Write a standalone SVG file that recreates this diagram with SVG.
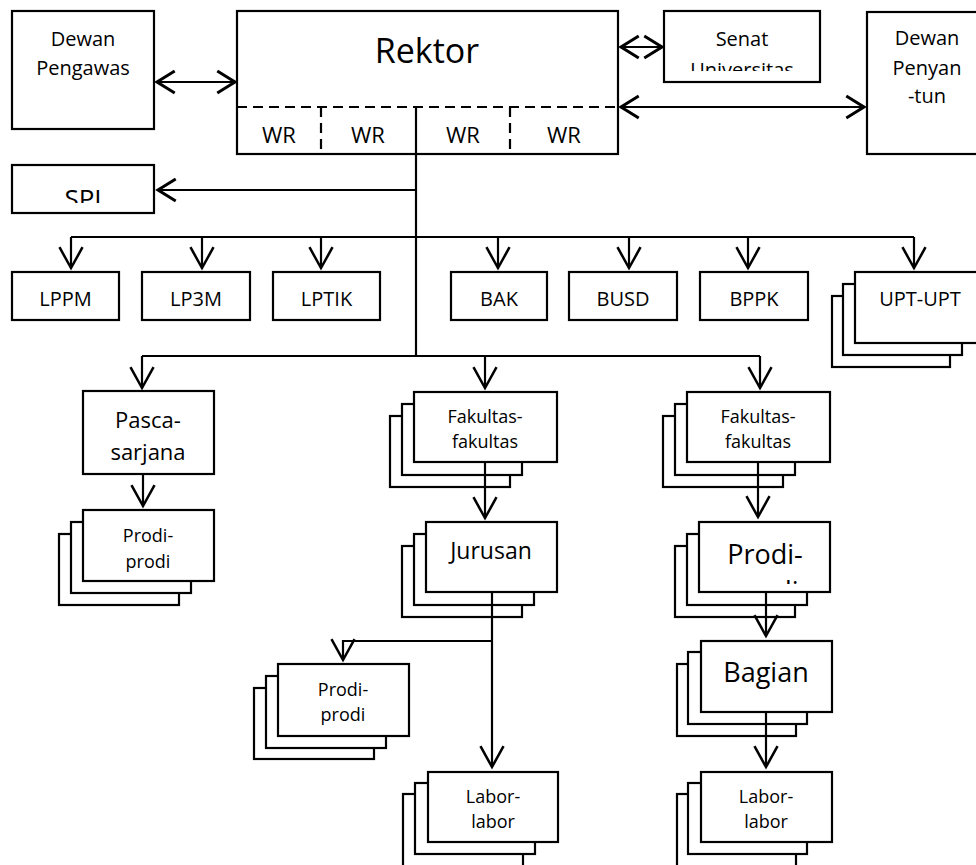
<svg xmlns="http://www.w3.org/2000/svg" width="976" height="865" viewBox="0 0 976 865">
<style>
rect{fill:#fff;stroke:#000;stroke-width:2.2}
.c{fill:none;stroke:#000;stroke-width:2.2}
.d{fill:none;stroke:#000;stroke-width:2.2;stroke-dasharray:10 6}
text{font-family:"Open Sans","Liberation Sans",sans-serif;fill:#000;text-anchor:middle}
.s18{font-size:18px}
.s20{font-size:20px}
.s22{font-size:22px}
</style>
<defs>
<marker id="ad" markerUnits="userSpaceOnUse" markerWidth="30" markerHeight="30" viewBox="-22 -13 26 26" refX="0" refY="0" orient="auto-start-reverse" overflow="visible"><path d="M-18,-10 L0,0 L-18,10" fill="none" stroke="#000" stroke-width="2.2"/></marker>
<marker id="ah" markerUnits="userSpaceOnUse" markerWidth="30" markerHeight="30" viewBox="-18 -11 22 22" refX="0" refY="0" orient="auto-start-reverse" overflow="visible"><path d="M-13,-8 L0,0 L-13,8" fill="none" stroke="#000" stroke-width="2.2"/></marker>
<clipPath id="clipSenat"><rect x="664" y="11" width="156" height="60"/></clipPath>
<clipPath id="clipSPI"><rect x="12" y="165" width="142" height="38"/></clipPath>
<clipPath id="clipProdiR"><rect x="699" y="522" width="131" height="62"/></clipPath>
</defs>

<g id="dewan-pengawas">
<rect x="12" y="11" width="142" height="118"/>
<text class="s20" x="83" y="46">Dewan</text>
<text class="s20" x="83" y="75">Pengawas</text>
</g>

<g id="rektor">
<rect x="237" y="11" width="381" height="143"/>
<line class="d" x1="237" y1="107" x2="618" y2="107"/>
<line class="d" x1="321" y1="107" x2="321" y2="154"/>
<line class="d" x1="510" y1="107" x2="510" y2="154"/>
<text x="427" y="63" style="font-size:34px">Rektor</text>
<text class="s22" x="279" y="143">WR</text>
<text class="s22" x="368" y="143">WR</text>
<text class="s22" x="463" y="143">WR</text>
<text class="s22" x="564" y="143">WR</text>
</g>

<g id="senat">
<rect x="664" y="11" width="156" height="71"/>
<text class="s20" x="742" y="46">Senat</text>
<text class="s20" x="742" y="77" clip-path="url(#clipSenat)">Universitas</text>
</g>

<g id="dewan-penyantun">
<rect x="867" y="12" width="112" height="142"/>
<text class="s20" x="927" y="45">Dewan</text>
<text class="s20" x="927" y="75">Penyan</text>
<text class="s20" x="927" y="103">-tun</text>
</g>

<g id="spi">
<rect x="12" y="165" width="142" height="48"/>
<text x="83" y="208" style="font-size:26px" clip-path="url(#clipSPI)">SPI</text>
</g>

<g id="lppm"><rect x="12" y="272" width="107" height="48"/><text class="s20" x="65.5" y="306">LPPM</text></g>
<g id="lp3m"><rect x="142" y="272" width="108" height="48"/><text class="s20" x="196" y="306">LP3M</text></g>
<g id="lptik"><rect x="273" y="272" width="107" height="48"/><text class="s20" x="326.5" y="306">LPTIK</text></g>
<g id="bak"><rect x="451" y="272" width="96" height="48"/><text class="s20" x="499" y="306">BAK</text></g>
<g id="busd"><rect x="569" y="272" width="108" height="48"/><text class="s20" x="623" y="306">BUSD</text></g>
<g id="bppk"><rect x="700" y="272" width="108" height="48"/><text class="s20" x="754" y="306">BPPK</text></g>

<g id="upt">
<rect x="832" y="296" width="118" height="71"/>
<rect x="843" y="284" width="119" height="71"/>
<rect x="855" y="272" width="124" height="71"/>
<text class="s20" x="920" y="306">UPT-UPT</text>
</g>

<g id="pascasarjana">
<rect x="83" y="391" width="131" height="83"/>
<text class="s22" x="148" y="428">Pasca-</text>
<text class="s22" x="148" y="460">sarjana</text>
</g>

<g id="prodi-pasca">
<rect x="59" y="534" width="120" height="71"/>
<rect x="71" y="522" width="120" height="71"/>
<rect x="83" y="510" width="131" height="71"/>
<text class="s18" x="148" y="542">Prodi-</text>
<text class="s18" x="148" y="568">prodi</text>
</g>

<g id="fakultas-1">
<rect x="390" y="416" width="120" height="71"/>
<rect x="402" y="404" width="120" height="71"/>
<rect x="414" y="392" width="143" height="70"/>
<text class="s18" x="485" y="423">Fakultas-</text>
<text class="s18" x="485" y="448">fakultas</text>
</g>

<g id="jurusan">
<rect x="402" y="546" width="120" height="71"/>
<rect x="414" y="534" width="120" height="71"/>
<rect x="426" y="522" width="131" height="70"/>
<text x="491" y="559" style="font-size:23px">Jurusan</text>
</g>

<g id="prodi-jurusan">
<rect x="254" y="688" width="120" height="71"/>
<rect x="266" y="676" width="120" height="72"/>
<rect x="278" y="664" width="131" height="72"/>
<text class="s18" x="343" y="696">Prodi-</text>
<text class="s18" x="343" y="721">prodi</text>
</g>

<g id="labor-1">
<rect x="403" y="794" width="120" height="80"/>
<rect x="415" y="783" width="120" height="71"/>
<rect x="428" y="772" width="130" height="70"/>
<text class="s18" x="493" y="803">Labor-</text>
<text class="s18" x="493" y="828">labor</text>
</g>

<g id="fakultas-2">
<rect x="663" y="416" width="120" height="71"/>
<rect x="675" y="404" width="120" height="71"/>
<rect x="687" y="392" width="143" height="70"/>
<text class="s18" x="758" y="423">Fakultas-</text>
<text class="s18" x="758" y="448">fakultas</text>
</g>

<g id="prodi-fakultas">
<rect x="675" y="546" width="120" height="71"/>
<rect x="687" y="534" width="120" height="71"/>
<rect x="699" y="522" width="131" height="70"/>
<text x="765" y="564" style="font-size:27px">Prodi-</text>
<text x="765" y="601" style="font-size:27px" clip-path="url(#clipProdiR)">prodi</text>
</g>

<g id="bagian">
<rect x="677" y="664" width="119" height="72"/>
<rect x="688" y="652" width="119" height="72"/>
<rect x="701" y="641" width="131" height="71"/>
<text x="766" y="682" style="font-size:27px">Bagian</text>
</g>

<g id="labor-2">
<rect x="677" y="794" width="119" height="80"/>
<rect x="688" y="783" width="119" height="71"/>
<rect x="701" y="772" width="131" height="70"/>
<text class="s18" x="766" y="803">Labor-</text>
<text class="s18" x="766" y="828">labor</text>
</g>

<g id="connectors">
<line class="c" x1="157" y1="82" x2="235" y2="82" marker-start="url(#ah)" marker-end="url(#ah)"/>
<line class="c" x1="621" y1="47" x2="662" y2="47" marker-start="url(#ah)" marker-end="url(#ah)"/>
<line class="c" x1="621" y1="107" x2="864" y2="107" marker-start="url(#ah)" marker-end="url(#ah)"/>
<line class="c" x1="416" y1="107" x2="416" y2="356"/>
<line class="c" x1="416" y1="190" x2="158" y2="190" marker-end="url(#ah)"/>
<line class="c" x1="71" y1="237" x2="914" y2="237"/>
<line class="c" x1="71" y1="237" x2="71" y2="268" marker-end="url(#ad)"/>
<line class="c" x1="202" y1="237" x2="202" y2="268" marker-end="url(#ad)"/>
<line class="c" x1="321" y1="237" x2="321" y2="268" marker-end="url(#ad)"/>
<line class="c" x1="498" y1="237" x2="498" y2="268" marker-end="url(#ad)"/>
<line class="c" x1="629" y1="237" x2="629" y2="268" marker-end="url(#ad)"/>
<line class="c" x1="748" y1="237" x2="748" y2="268" marker-end="url(#ad)"/>
<line class="c" x1="914" y1="237" x2="914" y2="268" marker-end="url(#ad)"/>
<line class="c" x1="142" y1="356" x2="760" y2="356"/>
<line class="c" x1="142" y1="356" x2="142" y2="388" marker-end="url(#ad)"/>
<line class="c" x1="485" y1="356" x2="485" y2="388" marker-end="url(#ad)"/>
<line class="c" x1="760" y1="356" x2="760" y2="388" marker-end="url(#ad)"/>
<line class="c" x1="143" y1="474" x2="143" y2="506" marker-end="url(#ad)"/>
<line class="c" x1="485" y1="462" x2="485" y2="518" marker-end="url(#ad)"/>
<line class="c" x1="492" y1="592" x2="492" y2="767" marker-end="url(#ad)"/>
<polyline class="c" points="492,641 343,641 343,660" marker-end="url(#ad)"/>
<line class="c" x1="758" y1="462" x2="758" y2="517" marker-end="url(#ad)"/>
<line class="c" x1="766" y1="592" x2="766" y2="636" marker-end="url(#ad)"/>
<line class="c" x1="766" y1="712" x2="766" y2="767" marker-end="url(#ad)"/>
</g>
</svg>
